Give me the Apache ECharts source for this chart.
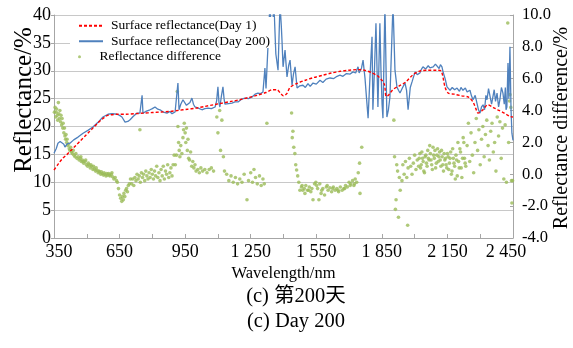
<!DOCTYPE html>
<html>
<head>
<meta charset="utf-8">
<script src="https://cdn.jsdelivr.net/npm/echarts@6/dist/echarts.min.js"></script>
<style>
  html, body { margin: 0; padding: 0; background: #fff; }
  #chart { width: 573px; height: 348px; }
</style>
</head>
<body>
<div id="chart"></div>
<script>
// 第1天 地表反射率 (红色虚线)
var day1Wave = [350, 370, 390, 410, 430, 450, 470, 490, 510, 530, 550, 570, 590, 610, 640, 680, 720, 760, 800, 840,
    880, 920, 960, 1000, 1040, 1080, 1120, 1160, 1200, 1240, 1280, 1320, 1350, 1370, 1385, 1400, 1415, 1430, 1460, 1500,
    1540, 1580, 1620, 1660, 1700, 1740, 1770, 1800, 1830, 1850, 1862, 1870, 1880, 1900, 1930, 1960, 1990, 2020, 2060, 2100,
    2120, 2139, 2153, 2180, 2215, 2244, 2267, 2280, 2290, 2310, 2335, 2360, 2380, 2410, 2436, 2450];
var day1Value = [12.2, 13.3, 14.3, 15.0, 15.8, 16.6, 17.4, 18.2, 19.0, 19.8, 20.6, 21.3, 21.9, 22.1, 22.2, 22.2, 22.3, 22.4, 22.5, 22.6,
    22.7, 22.9, 23.1, 23.3, 23.6, 23.9, 24.2, 24.5, 24.8, 25.2, 25.6, 26.1, 26.6, 26.6, 26.0, 25.5, 25.9, 27.0, 27.7, 28.3,
    28.8, 29.2, 29.6, 29.9, 30.1, 30.2, 30.1, 29.7, 29.1, 28.3, 27.5, 25.4, 25.6, 26.6, 27.3, 28.0, 29.2, 29.9, 30.1, 30.1,
    30.0, 27.1, 26.0, 25.8, 25.5, 25.3, 24.4, 23.2, 22.4, 22.9, 23.9, 23.4, 23.0, 22.4, 21.8, 21.7];

// 第200天 地表反射率 (蓝色实线)
var day200Wave = [350, 360, 368, 378, 387, 395, 400, 410, 423, 440, 460, 483, 505, 528, 550, 574, 597, 615, 638, 650,
    661, 675, 688, 698, 712, 730, 743, 750, 753, 757, 770, 789, 800, 812, 825, 835, 850, 867, 880, 890,
    904, 910, 917, 922, 930, 940, 949, 956, 963, 972, 981, 988, 995, 1010, 1027, 1040, 1055, 1070, 1087, 1094,
    1100, 1105, 1109, 1116, 1123, 1128, 1132, 1148, 1164, 1178, 1192, 1208, 1224, 1240, 1256, 1270, 1283, 1295, 1306, 1315,
    1320, 1324, 1338, 1344, 1347, 1352, 1356, 1365, 1375, 1384, 1390, 1393, 1398, 1407, 1416, 1424, 1430, 1439, 1446, 1453,
    1462, 1475, 1489, 1500, 1512, 1522, 1535, 1550, 1567, 1580, 1595, 1613, 1630, 1645, 1658, 1672, 1688, 1705, 1718, 1730,
    1741, 1746, 1750, 1757, 1764, 1773, 1780, 1787, 1797, 1805, 1809, 1816, 1823, 1832, 1836, 1841, 1846, 1851, 1855, 1864,
    1873, 1880, 1887, 1901, 1910, 1919, 1926, 1933, 1945, 1956, 1963, 1970, 1980, 1988, 2002, 2012, 2024, 2030, 2038, 2050,
    2062, 2070, 2085, 2095, 2102, 2112, 2118, 2125, 2130, 2140, 2148, 2162, 2172, 2183, 2194, 2205, 2212, 2221, 2232, 2240,
    2253, 2260, 2267, 2277, 2285, 2292, 2299, 2306, 2313, 2320, 2326, 2331, 2338, 2345, 2352, 2358, 2364, 2370, 2377, 2384,
    2390, 2397, 2404, 2410, 2415, 2418, 2422, 2427, 2431, 2436, 2441, 2445, 2450];
var day200Value = [15.2, 16.0, 17.0, 17.3, 17.6, 16.8, 16.3, 16.9, 17.0, 17.6, 18.1, 18.8, 19.3, 19.9, 20.7, 21.7, 22.2, 22.3, 22.2, 22.0,
    21.7, 20.8, 20.9, 21.2, 21.8, 22.4, 22.4, 22.6, 25.6, 22.4, 22.7, 23.0, 23.2, 23.5, 23.1, 23.0, 22.6, 22.4, 22.7, 22.3,
    22.6, 22.4, 27.8, 23.0, 24.0, 24.8, 24.8, 23.8, 23.5, 24.3, 25.1, 24.0, 23.5, 23.3, 23.0, 23.2, 23.3, 23.2, 23.5, 24.6,
    27.1, 24.2, 23.5, 25.5, 27.1, 25.0, 24.0, 24.1, 24.2, 24.4, 24.4, 24.9, 25.1, 25.0, 25.3, 25.8, 26.0, 25.9, 26.2, 30.5,
    26.8, 26.5, 42, 37.0, 38.5, 39.0, 42, 33.0, 30.1, 42, 38.0, 35.5, 30.7, 33.7, 28.9, 31.0, 31.9, 27.4, 29.5, 30.7,
    26.9, 27.3, 27.4, 27.0, 27.7, 27.2, 27.8, 27.6, 28.3, 27.9, 28.5, 28.7, 28.6, 29.0, 29.2, 29.0, 29.5, 29.4, 29.8, 29.6,
    30.7, 29.6, 29.8, 30.5, 31.9, 28.6, 25.0, 21.5, 30.0, 36.1, 23.0, 30.0, 38.5, 23.5, 30.0, 38.5, 30.0, 24.0, 21.5, 42,
    21.7, 23.0, 25.3, 42, 30.1, 27.1, 26.5, 26.0, 27.0, 27.8, 26.5, 23.0, 27.0, 28.0, 29.8, 29.3, 29.6, 30.2, 30.7, 30.3,
    30.9, 30.5, 30.7, 31.2, 31.0, 30.4, 31.1, 30.7, 29.8, 28.5, 27.1, 26.5, 27.0, 26.6, 26.9, 26.3, 27.0, 26.5, 26.9, 26.2,
    26.5, 25.5, 24.8, 25.6, 24.2, 23.0, 22.4, 23.5, 23.9, 23.0, 25.6, 24.8, 26.8, 26.5, 24.0, 23.9, 26.6, 24.5, 26.0, 23.5,
    24.8, 27.0, 26.0, 24.0, 27.0, 23.0, 23.5, 31.4, 25.0, 34.3, 23.0, 18.8, 17.5];

// 反射率差值 (右轴, 绿色散点)
var diffWave = [352, 355, 358, 360, 362, 365, 367, 370, 372, 375, 377, 380, 382, 385, 387, 390, 392, 395, 398, 400,
    403, 405, 408, 410, 413, 416, 420, 423, 426, 430, 434, 438, 442, 446, 450, 455, 460, 465, 470, 475,
    480, 486, 492, 498, 504, 510, 516, 522, 528, 534, 540, 546, 552, 558, 564, 570, 576, 582, 588, 594,
    600, 606, 612, 618, 624, 630, 636, 640, 645, 650, 655, 660, 663, 667, 670, 674, 678, 682, 686, 690,
    695, 700, 705, 710, 715, 720, 725, 730, 735, 740, 743, 745, 750, 755, 760, 765, 770, 775, 780, 785,
    790, 795, 800, 805, 810, 815, 820, 825, 830, 835, 840, 845, 850, 855, 860, 865, 870, 875, 880, 885,
    890, 895, 900, 905, 910, 914, 917, 920, 923, 926, 930, 935, 940, 943, 946, 950, 953, 956, 960, 963,
    966, 970, 975, 980, 985, 990, 995, 1000, 1008, 1015, 1022, 1030, 1040, 1050, 1060, 1070, 1080, 1095, 1100, 1108,
    1112, 1118, 1125, 1130, 1140, 1150, 1160, 1170, 1180, 1190, 1200, 1210, 1220, 1233, 1240, 1250, 1258, 1265, 1272, 1280,
    1290, 1298, 1306, 1312, 1324, 1437, 1440, 1443, 1447, 1452, 1456, 1460, 1465, 1470, 1475, 1482, 1488, 1495, 1502, 1510,
    1518, 1525, 1535, 1542, 1548, 1556, 1562, 1566, 1572, 1580, 1588, 1596, 1604, 1612, 1620, 1628, 1636, 1644, 1652, 1660,
    1668, 1676, 1684, 1692, 1700, 1708, 1716, 1722, 1728, 1735, 1742, 1748, 1750, 1758, 1905, 1908, 1912, 1915, 1918, 1922,
    1926, 1930, 1934, 1942, 1946, 1952, 1958, 1964, 1968, 1970, 1976, 1982, 1988, 1994, 2000, 2006, 2012, 2018, 2024, 2030,
    2036, 2042, 2048, 2054, 2060, 2066, 2072, 2078, 2084, 2090, 2096, 2102, 2108, 2114, 2120, 2126, 2132, 2138, 2144, 2150,
    2156, 2162, 2168, 2174, 2180, 2186, 2192, 2198, 2204, 2210, 2216, 2222, 2228, 2234, 2240, 2246, 2252, 2258, 2264, 2270,
    2276, 2282, 2288, 2294, 2300, 2306, 2312, 2318, 2324, 2330, 2336, 2342, 2348, 2354, 2360, 2366, 2372, 2378, 2384, 2390,
    2396, 2402, 2408, 2414, 2420, 2426, 2430, 2434, 2436, 2440, 2443, 2445, 2448,
    2021, 2027, 2033, 2039, 2045, 2051, 2057, 2063, 2069, 2075, 2081, 2087, 2093, 2099, 2105, 2111, 2117, 2123, 2129, 2135,
    2141, 2147, 2153, 2159, 2165, 2171, 2177, 2183, 2189, 2195, 2201, 2207, 2213, 2219, 2225, 2231,
    473, 483, 495, 507, 519, 531, 543, 555, 567, 579, 591, 603, 615,
    1485, 1498, 1515, 1530, 1552, 1575, 1600, 1625, 1650, 1680, 1705, 1725];
var diffValue = [3.9, 4.2, 3.6, 3.9, 4.1, 3.7, 3.4, 4.5, 3.8, 3.5, 4.0, 3.3, 3.7, 3.1, 3.5, 2.9, 3.2, 2.6, 2.9, 2.4,
    2.2, 2.5, 2.0, 2.2, 1.8, 1.9, 1.6, 1.5, 1.7, 1.4, 1.3, 1.5, 1.2, 1.1, 1.3, 1.0, 1.1, 0.9, 1.0, 0.8,
    0.9, 0.7, 0.8, 0.6, 0.5, 0.6, 0.4, 0.5, 0.3, 0.35, 0.2, 0.25, 0.1, 0.15, 0.0, 0.05, -0.05, 0.0, -0.1, -0.05,
    0.05, -0.1, 0.0, -0.15, -0.3, -0.2, -0.4, -0.5, -0.9, -1.3, -1.5, -1.7, -1.4, -1.6, -1.2, -1.4, -1.0, -0.9, -1.1, -0.7,
    -0.6, -0.3, -0.6, -0.3, -0.7, -0.2, -0.4, 0.0, -0.3, -0.1, 2.8, -0.5, 0.1, -0.2, 0.0, -0.4, 0.2, -0.1, -0.3, 0.1,
    -0.2, 0.3, 0.0, -0.3, 0.2, -0.1, 0.5, -0.2, 0.1, -0.4, 0.3, -0.1, 0.5, -0.3, 0.2, 0.0, 0.6, -0.2, 0.1, 0.4,
    -0.1, 0.6, 1.2, 0.6, 1.2, 5.2, 3.0, 2.0, 1.5, 1.1, 1.8, 1.3, 2.3, 2.8, 3.2, 2.6, 2.0, 2.9, 1.5, 2.2,
    1.0, 0.9, 1.4, 0.5, 0.8, 0.4, 0.6, 0.2, 0.3, 0.1, 0.4, 0.2, 0.3, 0.1, 0.3, 0.4, 0.2, 3.6, 2.6, 4.0,
    1.5, 3.4, 1.1, 0.2, 0.0, -0.4, -0.1, -0.5, -0.2, -0.6, -0.3, -0.5, 0.0, -1.6, -0.4, 0.1, -0.5, 0.3, -0.2, -0.6,
    -0.1, -0.7, -0.3, -0.6, 3.2, 3.85, 2.3, 2.7, 1.7, 1.3, 0.6, 0.27, -0.1, -0.5, -1.0, -0.8, -1.0, -0.9, -0.7, -1.0,
    -0.8, -1.1, -1.6, -0.6, -0.5, -0.9, -1.6, -0.6, -1.2, -0.9, -1.3, -0.8, -1.0, -0.85, -1.1, -0.8, -1.0, -0.9, -1.1, -0.8,
    -1.0, -0.9, -0.7, -0.8, -0.5, -0.6, -0.4, -0.7, -0.3, -0.5, 0.1, 0.7, -1.2, 1.7, 3.4, 1.1, -2.2, -1.6, 0.6, 0.2,
    -2.7, -0.2, -1.0, -0.4, 0.6, 0.0, 0.8, -0.2, -3.2, 0.4, 1.0, 0.5, 0.0, 0.7, 1.2, 0.3, 0.9, 0.5, 1.3, 0.6,
    1.0, 0.2, 1.1, 0.7, 1.5, 0.9, 1.3, 0.6, 1.7, 1.0, 0.4, 1.2, 0.8, 1.4, 0.5, 1.1, 0.2, 0.9, 0.6, 1.3,
    0.3, 1.0, 0.0, 1.6, 0.7, -0.3, 0.9, 2.0, 0.4, 1.4, -0.2, 2.3, 1.0, 0.5, 1.8, 3.2, 0.8, 2.6, 1.2, 0.1,
    2.0, 3.5, 1.5, 2.8, 0.6, 2.2, 3.0, 1.1, 2.5, 3.4, 1.8, 0.9, 2.7, 3.2, 1.4, 2.0, 0.2, 3.6, 2.4, 3.3,
    1.0, 2.9, -0.3, 3.1, -0.5, 9.5, 2.0, 4.6, 5.0, 4.2, -0.4, -1.8, -0.4,
    1.0, 0.4, 1.4, 0.8, 0.1, 1.2, 0.5, 1.0, 1.8, 0.9, 0.3, 1.2, 1.5, 0.7, 1.6, 1.1, 0.9, 1.5, 0.6, 1.3,
    1.0, 0.4, 1.1, 0.7, 1.4, 0.2, 1.0, 0.5, 1.2, -0.1, 0.8, 1.6, 0.4, 1.0, 2.0, 0.7,
    1.1, 0.8, 0.9, 0.7, 0.6, 0.5, 0.4, 0.2, 0.15, 0.1, 0.05, -0.05, 0.1,
    -0.7, -1.2, -1.0, -0.9, -0.7, -1.0, -0.7, -0.9, -1.0, -0.9, -0.7, -0.6];

// 刻度标签
var xLabels = {350: '350', 650: '650', 950: '950', 1250: '1 250', 1550: '1 550', 1850: '1 850', 2150: '2 150', 2450: '2 450'};
var xStart = 350;   // 横轴起点, 刻度从0开始计数

var font = "'Liberation Serif', 'Noto Sans CJK SC', serif";
var gridColor = '#c8c8c8';
var axisColor = '#a6a6a6';

function pairs(xs, ys) {
    var out = [];
    for (var i = 0; i < xs.length; i++) {
        out.push([xs[i] - xStart, ys[i]]);
    }
    return out;
}

var chart = echarts.init(document.getElementById('chart'));
var option = {
    animation: false,
    backgroundColor: '#fff',
    grid: {left: 54, right: 60, top: 15, bottom: 110, outerBoundsMode: 'none'},
    legend: [
        {
            data: ['Surface reflectance(Day 1)', 'Surface reflectance(Day 200)'],
            orient: 'vertical', left: 70, top: 17,
            itemWidth: 24, itemHeight: 8, itemGap: 2,
            padding: [2, 4, 0, 8],
            backgroundColor: '#fff',
            itemStyle: {opacity: 0},
            textStyle: {fontFamily: font, fontSize: 13.5, color: '#000', padding: [0, 0, 0, 3]}
        },
        {
            data: ['Reflectance difference'],
            orient: 'vertical', left: 70, top: 50,
            itemWidth: 24, itemHeight: 3,
            padding: [0, 4, 4, 8],
            backgroundColor: '#fff',
            textStyle: {fontFamily: font, fontSize: 13.5, color: '#000', padding: [0, 0, 0, 3]}
        }
    ],
    xAxis: {
        type: 'value', min: 0, max: 2100, interval: 150,
        name: 'Wavelength/nm', nameLocation: 'middle', nameGap: 24,
        nameTextStyle: {fontFamily: font, fontSize: 16.5, color: '#000'},
        axisLine: {lineStyle: {color: axisColor}},
        axisTick: {inside: true, length: 4, lineStyle: {color: axisColor}},
        splitLine: {show: false},
        axisLabel: {
            fontFamily: font, fontSize: 18, color: '#000', margin: 5,
            formatter: function (v) {
                var s = xLabels[v + xStart] || '';
                if (v === 0) return '{first|' + s + '}';
                if (v === 2100) return '{last|' + s + '}';
                return s;
            },
            rich: {
                first: {fontFamily: font, fontSize: 18, color: '#000', padding: [0, 0, 0, 10]},
                last: {fontFamily: font, fontSize: 18, color: '#000', padding: [0, 14, 0, 0]}
            }
        }
    },
    yAxis: [
        {
            type: 'value', min: 0, max: 40, interval: 5,
            axisLine: {show: true, lineStyle: {color: axisColor}},
            axisTick: {show: true, length: 3, lineStyle: {color: axisColor}},
            splitLine: {lineStyle: {color: gridColor, width: 1}},
            axisLabel: {fontFamily: font, fontSize: 18, color: '#000', margin: 3}
        },
        {
            type: 'value', min: -4, max: 10, interval: 2, position: 'right',
            axisLine: {show: true, lineStyle: {color: axisColor}},
            axisTick: {show: true, inside: true, length: 3, lineStyle: {color: axisColor}},
            splitLine: {show: false},
            axisLabel: {
                fontFamily: font, fontSize: 16.5, color: '#000', margin: 9,
                formatter: function (v) { return v.toFixed(1); }
            }
        }
    ],
    series: [
        {
            name: 'Reflectance difference', type: 'scatter', yAxisIndex: 1,
            symbol: 'circle', symbolSize: 3.6,
            itemStyle: {color: '#9bbb59'},
            data: pairs(diffWave, diffValue), z: 1
        },
        {
            name: 'Surface reflectance(Day 200)', type: 'line', yAxisIndex: 0,
            symbol: 'none', clip: true,
            lineStyle: {color: '#4f81bd', width: 1.3},
            itemStyle: {color: '#4f81bd'},
            data: pairs(day200Wave, day200Value), z: 2
        },
        {
            name: 'Surface reflectance(Day 1)', type: 'line', yAxisIndex: 0,
            symbol: 'none', clip: true, smooth: 0.3,
            lineStyle: {color: '#ff0000', width: 1.4, type: [3, 2]},
            itemStyle: {color: '#ff0000'},
            data: pairs(day1Wave, day1Value), z: 3
        }
    ],
    graphic: [
        // 纵轴标题
        {type: 'text', x: 24, y: 100, rotation: Math.PI / 2,
            style: {text: 'Reflectance/%', font: '25px ' + font, fill: '#000', align: 'center', verticalAlign: 'middle'}},
        {type: 'text', x: 562, y: 128, rotation: Math.PI / 2,
            style: {text: 'Reflectance difference/%', font: '20px ' + font, fill: '#000', align: 'center', verticalAlign: 'middle'}},
        // 图注
        {type: 'text', x: 296, y: 297,
            style: {text: '(c) 第200天', font: '20.5px ' + font, fill: '#000', align: 'center', verticalAlign: 'middle'}},
        {type: 'text', x: 296, y: 322,
            style: {text: '(c) Day 200', font: '20.5px ' + font, fill: '#000', align: 'center', verticalAlign: 'middle'}}
    ]
};
chart.setOption(option);
</script>
</body>
</html>
